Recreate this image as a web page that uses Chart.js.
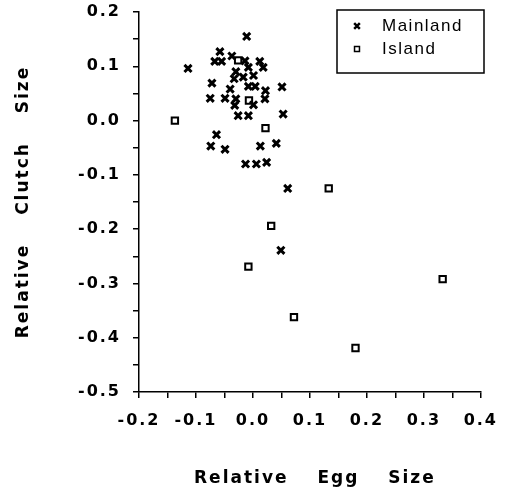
<!DOCTYPE html>
<html lang="en">
<head>
  <meta charset="UTF-8">
  <title>Relative clutch size vs relative egg size</title>
  <script src="https://cdn.jsdelivr.net/npm/chart.js"></script>
  <style>
    * { margin: 0; padding: 0; box-sizing: border-box; }
    body { background: #fff; width: 508px; height: 497px; overflow: hidden; }
    #wrap { position: relative; width: 508px; height: 497px; }
  </style>
</head>
<body>
  <div id="wrap"><canvas id="chart" width="508" height="497"></canvas></div>
  <script>
    // values
    const mainlandX = [-0.011, -0.058, -0.037, -0.067, -0.055, -0.014, 0.012, -0.008, 0.018, -0.114,
      -0.030, -0.017, 0.001, -0.033, -0.072, -0.008, 0.004, 0.051, -0.040, 0.022,
      -0.075, -0.049, -0.030, 0.021, -0.032, 0.001, 0.053, -0.026, -0.008, -0.064,
      -0.074, -0.049, 0.013, 0.041, -0.013, 0.006, 0.024, 0.061, 0.049];
    const mainlandY = [0.155, 0.127, 0.119, 0.109, 0.109, 0.110, 0.109, 0.098, 0.098, 0.096,
      0.090, 0.080, 0.083, 0.077, 0.069, 0.063, 0.063, 0.062, 0.058, 0.055,
      0.041, 0.041, 0.040, 0.040, 0.028, 0.029, 0.012, 0.009, 0.009, -0.026,
      -0.047, -0.053, -0.047, -0.042, -0.080, -0.080, -0.077, -0.125, -0.239];
    const islandX = [-0.137, -0.026, -0.007, 0.022, 0.133, 0.032, -0.008, 0.333, 0.072, 0.180];
    const islandY = [0.000, 0.111, 0.037, -0.014, -0.125, -0.194, -0.269, -0.292, -0.362, -0.419];
    const seriesNames = ['Mainland', 'Island'];
    const xTitle = 'Relative Egg Size';
    const yTitle = 'Relative Clutch Size';

    const toPoints = (xs, ys) => xs.map((x, i) => ({ x: x, y: ys[i] }));
    const boldFamily = '"DejaVu Sans", "Liberation Sans", sans-serif';

    function tickLabel(v) {
      const n = Math.round(v * 20);
      if (n % 2 !== 0) return '';
      return (Math.round(v * 10) / 10).toFixed(1);
    }

    // titles + boxed legend drawn by hand
    const decor = {
      id: 'decor',
      beforeDraw(chart) {
        chart.ctx.letterSpacing = '2px';
      },
      afterDraw(chart) {
        const ctx = chart.ctx;
        const area = chart.chartArea;
        ctx.save();
        ctx.fillStyle = '#000';
        ctx.font = 'bold 17px ' + boldFamily;
        ctx.letterSpacing = '2px';
        ctx.wordSpacing = '21px';
        ctx.textAlign = 'center';
        ctx.textBaseline = 'middle';
        ctx.fillText(xTitle, (area.left + area.right) / 2 + 5, 479);
        ctx.translate(24, (area.top + area.bottom) / 2);
        ctx.rotate(-Math.PI / 2);
        ctx.fillText(yTitle, 0, 0);
        ctx.restore();

        // legend
        ctx.save();
        ctx.strokeStyle = '#000';
        ctx.lineWidth = 1.5;
        ctx.strokeRect(337, 10, 147, 63);
        ctx.font = '17px "Liberation Sans", Arial, sans-serif';
        ctx.letterSpacing = '1.5px';
        ctx.textAlign = 'left';
        ctx.textBaseline = 'middle';
        chart.data.datasets.forEach((ds, i) => {
          const y = 26 + i * 23;
          ctx.strokeStyle = '#000';
          ctx.fillStyle = ds.backgroundColor;
          ctx.lineWidth = ds.borderWidth - 0.5;
          Chart.helpers.drawPoint(ctx, {
            pointStyle: ds.pointStyle,
            radius: ds.pointRadius - 1,
            borderWidth: ds.borderWidth - 0.5
          }, 357, y);
          ctx.fillStyle = '#000';
          ctx.fillText(ds.label, 382, y);
        });
        ctx.restore();
      }
    };

    const axisCommon = {
      type: 'linear',
      grid: { drawOnChartArea: false, drawTicks: true, tickLength: 6, color: '#000', lineWidth: 1.5 },
      border: { display: true, color: '#000', width: 1.5 },
      ticks: {
        stepSize: 0.05,
        autoSkip: false,
        maxRotation: 0,
        padding: 12,
        color: '#000',
        font: { family: boldFamily, size: 16, weight: 'bold' },
        callback: tickLabel
      }
    };

    new Chart(document.getElementById('chart'), {
      type: 'scatter',
      data: {
        datasets: [{
          label: seriesNames[0],
          data: toPoints(mainlandX, mainlandY),
          pointStyle: 'crossRot',
          pointRadius: 5,
          borderWidth: 3,
          borderColor: '#000',
          backgroundColor: '#000'
        }, {
          label: seriesNames[1],
          data: toPoints(islandX, islandY),
          pointStyle: 'rect',
          pointRadius: 4.5,
          borderWidth: 2,
          borderColor: '#000',
          backgroundColor: '#fff'
        }]
      },
      options: {
        responsive: false,
        animation: false,
        layout: { padding: { left: 0, top: 12, right: 25, bottom: 0 } },
        plugins: {
          legend: { display: false },
          tooltip: { enabled: false }
        },
        scales: {
          x: Object.assign({}, axisCommon, {
            min: -0.2, max: 0.4,
            ticks: Object.assign({}, axisCommon.ticks, { padding: 13 }),
            afterFit(scale) { scale.height = 105; }
          }),
          y: Object.assign({}, axisCommon, {
            min: -0.5, max: 0.2,
            afterFit(scale) {
              scale.width = 139;
              scale.paddingTop = 0;
              scale.paddingBottom = 0;
            }
          })
        }
      },
      plugins: [decor]
    });
  </script>
</body>
</html>
